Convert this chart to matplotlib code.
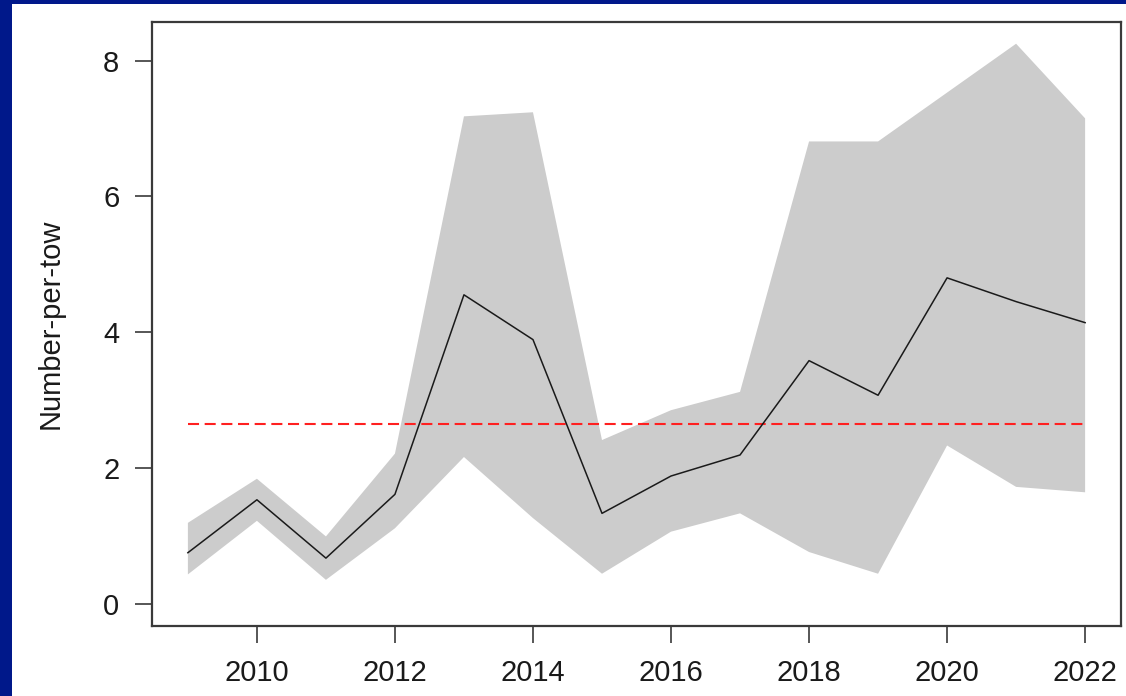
import matplotlib.pyplot as plt
from matplotlib.patches import Rectangle

plt.rcParams["font.family"] = ["Liberation Sans", "DejaVu Sans"]

years = [2009, 2010, 2011, 2012, 2013, 2014, 2015, 2016, 2017, 2018, 2019, 2020, 2021, 2022]
mean_per_tow = [0.75, 1.53, 0.67, 1.61, 4.55, 3.89, 1.33, 1.88, 2.19, 3.58, 3.07, 4.80, 4.45, 4.14]
upper_ci = [1.19, 1.84, 0.99, 2.21, 7.18, 7.24, 2.41, 2.85, 3.12, 6.81, 6.81, 7.53, 8.25, 7.15]
lower_ci = [0.43, 1.22, 0.35, 1.11, 2.16, 1.26, 0.44, 1.06, 1.33, 0.76, 0.44, 2.33, 1.72, 1.64]
series_mean = 2.64
y_ticks = [0, 2, 4, 6, 8]
x_ticks = [2010, 2012, 2014, 2016, 2018, 2020, 2022]

W, H = 1126, 696
fig = plt.figure(figsize=(W / 100, H / 100), dpi=100)
fig.patch.set_facecolor("#00188a")
fig.add_artist(Rectangle((12 / W, 0), 1, (H - 4) / H, transform=fig.transFigure,
                         facecolor="white", edgecolor="none", zorder=0))

ax = fig.add_axes([152 / W, (H - 626) / H, (1121 - 152) / W, (626 - 22) / H])
ax.set_facecolor("white")

ax.fill_between(years, lower_ci, upper_ci, facecolor="#cccccc", edgecolor="none", zorder=1)
ax.plot(years, mean_per_tow, color="#1a1a1a", linewidth=1.1, zorder=3)
ax.plot([years[0], years[-1]], [series_mean, series_mean], color="#ff2020",
        linewidth=1.5, dashes=(5.3, 2.7), zorder=2)

span = years[-1] - years[0]
ax.set_xlim(years[0] - 0.04 * span, years[-1] + 0.04 * span)
ax.set_ylim(-0.33, 8.57)
ax.set_xticks(x_ticks)
ax.set_yticks(y_ticks)
ax.set_xticklabels([str(t) for t in x_ticks])
ax.set_yticklabels([str(t) for t in y_ticks])

for side in ax.spines.values():
    side.set_color("#3a3a3a")
    side.set_linewidth(1.6)

ax.tick_params(axis="both", length=12.5, width=1.2, color="#3a3a3a",
               labelsize=21, labelcolor="#1a1a1a", pad=11)
ax.set_ylabel("Number-per-tow", fontsize=21, color="#1a1a1a", labelpad=28)

fig.savefig("out.png", dpi=100, facecolor=fig.get_facecolor())
